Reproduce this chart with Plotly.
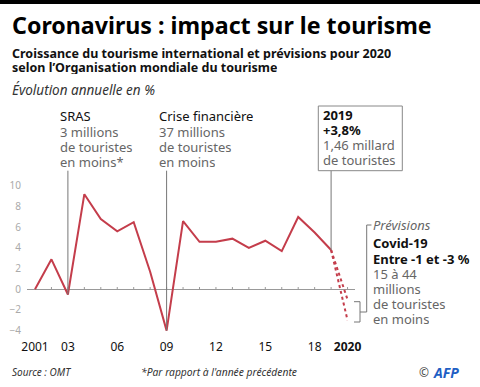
import plotly.graph_objects as go

# ---------------- data ----------------
years = list(range(2001, 2020))
growth = [0.0, 2.9, -0.5, 9.2, 6.8, 5.6, 6.5, 1.7, -4.0, 6.6,
          4.6, 4.6, 4.9, 4.0, 4.7, 3.7, 7.0, 5.5, 3.8]
forecast_year = 2020
forecast_high = -1.0
forecast_low = -3.0
xtick_vals = [2001, 2003, 2006, 2009, 2012, 2015, 2018, 2020]
xtick_text = ["2001", "03", "06", "09", "12", "15", "18", "<b>2020</b>"]
ytick_vals = [10, 8, 6, 4, 2, 0, -2, -4]
event_years = [2003, 2009, 2019]

# ---------------- layout geometry (pixels) ----------------
W, H = 480, 387
PL, PR, PT, PB = 27, 355, 100, 338
X0PX, XSTEP = 35, 16.45          # pixel of 2001, pixels per year
Y0PX, YSTEP = 289.3, 10.336      # pixel of 0, pixels per unit

xr = [2001 - (X0PX - PL) / XSTEP, 2001 + (PR - X0PX) / XSTEP]
yr = [-(PB - Y0PX) / YSTEP, (Y0PX - PT) / YSTEP]


def px(x):
    return (x - PL) / (PR - PL)


def py(y):
    return (PB - y) / (PB - PT)


RED = "#c43d4b"
GREY_TXT = "#666666"
FONT = "Noto Sans"

fig = go.Figure()
fig.add_trace(go.Scatter(x=years, y=growth, mode="lines",
                         line=dict(color=RED, width=2), hoverinfo="skip"))
for v in (forecast_high, forecast_low):
    fig.add_trace(go.Scatter(x=[years[-1], forecast_year], y=[growth[-1], v],
                             mode="lines", line=dict(color=RED, width=2, dash="dot"),
                             hoverinfo="skip"))

shapes = []
# small ticks on zero line
for yv in range(2002, 2021):
    shapes.append(dict(type="line", xref="x", yref="y", x0=yv, x1=yv,
                       y0=0, y1=0.22, line=dict(color="#999", width=1)))
# vertical event lines
top_val = (Y0PX - 170.7) / YSTEP
for ey in event_years:
    shapes.append(dict(type="line", xref="x", yref="y", x0=ey, x1=ey,
                       y0=top_val, y1=growth[years.index(ey)],
                       line=dict(color="#777", width=1)))
# 2019 box
shapes.append(dict(type="rect", xref="paper", yref="paper",
                   x0=px(318.3), x1=px(402.3), y0=py(106), y1=py(170.7),
                   line=dict(color="#888", width=1), fillcolor="rgba(0,0,0,0)"))
# forecast bracket
g = dict(color="#777", width=1)
shapes += [
    dict(type="line", xref="paper", yref="paper", x0=px(366.7), x1=px(366.7),
         y0=py(225), y1=py(312), line=g),
    dict(type="line", xref="paper", yref="paper", x0=px(366.7), x1=px(371.5),
         y0=py(225), y1=py(225), line=g),
    dict(type="line", xref="paper", yref="paper", x0=px(360), x1=px(366.7),
         y0=py(312), y1=py(312), line=g),
    dict(type="line", xref="paper", yref="paper", x0=px(360), x1=px(360),
         y0=py(301.7), y1=py(322), line=g),
    dict(type="line", xref="paper", yref="paper", x0=px(354), x1=px(360),
         y0=py(301.7), y1=py(301.7), line=g),
    dict(type="line", xref="paper", yref="paper", x0=px(354), x1=px(360),
         y0=py(322), y1=py(322), line=g),
]

ann = []
# top black bar (as a filled, text-less annotation box)
ann.append(dict(xref="paper", yref="paper", x=px(0), y=py(0), text=" ",
                showarrow=False, xanchor="left", yanchor="top",
                width=W, height=3.5, bgcolor="#000000", borderpad=0,
                borderwidth=0, font=dict(size=1, color="#000000")))


def txt(x, y, s, size=13, color="#111", bold=False, italic=False, h=None):
    if bold:
        s = "<b>" + s + "</b>"
    if italic:
        s = "<i>" + s + "</i>"
    d = dict(xref="paper", yref="paper", x=px(x), y=py(y), text=s,
             showarrow=False, xanchor="left", yanchor="middle",
             font=dict(family=FONT, size=size, color=color), borderpad=0)
    if h:
        d["height"] = h
    ann.append(d)


txt(11, 25, "Coronavirus : impact sur le tourisme", size=23.2, bold=True, color="#000")
txt(11, 53, "Croissance du tourisme international et prévisions pour 2020", size=12.5, bold=True, h=14)
txt(11, 67, "selon l’Organisation mondiale du tourisme", size=12.5, bold=True, h=14)
txt(11, 90, "Évolution annuelle en %", size=13.5, italic=True, color="#333")

LH = 14
# SRAS
txt(59, 116, "SRAS", size=13, h=LH)
txt(59, 131.5, "3 millions", size=13, color=GREY_TXT, h=LH)
txt(59, 146.5, "de touristes", size=13, color=GREY_TXT, h=LH)
txt(59, 161.5, "en moins*", size=13, color=GREY_TXT, h=LH)
# Crise
txt(158, 116, "Crise financière", size=13, h=LH)
txt(158, 131.5, "37 millions", size=13, color=GREY_TXT, h=LH)
txt(158, 146.5, "de touristes", size=13, color=GREY_TXT, h=LH)
txt(158, 161.5, "en moins", size=13, color=GREY_TXT, h=LH)
# 2019 box
txt(322, 115, "2019", size=13, bold=True, h=LH)
txt(322, 130, "+3,8%", size=13, bold=True, h=LH)
txt(322, 145, "1,46 millard", size=13, color=GREY_TXT, h=LH)
txt(322, 160, "de touristes", size=13, color=GREY_TXT, h=LH)
# forecast
txt(372, 225, "Prévisions", size=13, italic=True, color=GREY_TXT, h=LH)
txt(372, 243, "Covid-19", size=13, bold=True, h=LH)
txt(372, 259, "Entre -1 et -3 %", size=13, bold=True, h=LH)
txt(372, 274, "15 à 44", size=13, color=GREY_TXT, h=LH)
txt(372, 289, "millions", size=13, color=GREY_TXT, h=LH)
txt(372, 304, "de touristes", size=13, color=GREY_TXT, h=LH)
txt(372, 318.5, "en moins", size=13, color=GREY_TXT, h=LH)
# footer
txt(11, 372, "Source : OMT", size=10, italic=True, color="#333")
txt(140, 372, "*Par rapport à l'année précédente", size=10.3, italic=True, color="#333")
txt(418, 372, "©", size=12, color="#444")
txt(432, 372, "<b><i>AFP</i></b>", size=14, color="#1f5fc4")

fig.update_layout(
    width=W, height=H,
    margin=dict(l=PL, r=W - PR, t=PT, b=H - PB, autoexpand=False),
    paper_bgcolor="white", plot_bgcolor="white",
    showlegend=False,
    shapes=shapes, annotations=ann,
    xaxis=dict(range=xr, tickvals=xtick_vals, ticktext=xtick_text,
               showgrid=False, zeroline=False, showline=False, ticks="",
               tickfont=dict(family=FONT, size=12, color="#111"),
               ticklabelstandoff=0, fixedrange=True, automargin=False),
    yaxis=dict(range=yr, tickvals=ytick_vals, showgrid=False,
               zeroline=True, zerolinecolor="#999", zerolinewidth=1,
               showline=False, ticks="",
               tickfont=dict(family=FONT, size=10, color="#aaa"),
               ticklabelstandoff=5, fixedrange=True, automargin=False),
)

fig.write_html("out.html", config={"displayModeBar": False},
               post_script="document.body.style.margin='0';")
